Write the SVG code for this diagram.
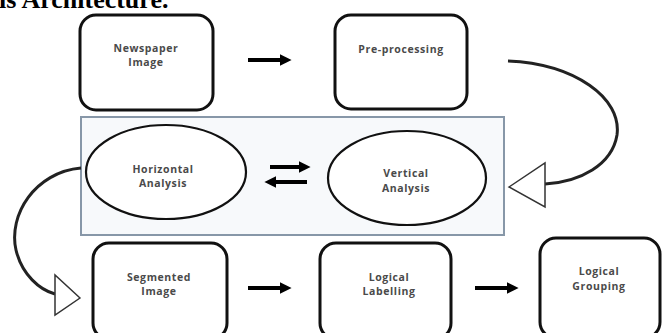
<svg xmlns="http://www.w3.org/2000/svg" width="664" height="333" viewBox="0 0 664 333">
<style>
.box{fill:#fff;stroke:#111;stroke-width:3}
.ell{fill:#fff;stroke:#111;stroke-width:2.2}
.lbl{font-family:"Open Sans","Liberation Sans",sans-serif;font-size:10.5px;font-weight:bold;fill:#4a4a4a;text-anchor:middle;letter-spacing:0.6px}
.arr{stroke:#000;stroke-width:4;fill:none}
.curve{stroke:#222;stroke-width:3;fill:none}
.tri{fill:#fff;stroke:#333;stroke-width:1.5}
</style>
<defs>
<marker id="ah" viewBox="0 0 10 10" refX="2" refY="5" markerWidth="12" markerHeight="12" markerUnits="userSpaceOnUse" orient="auto">
<path d="M0,0 L10,5 L0,10 Z" fill="#000"/>
</marker>
</defs>
<text x="-1" y="8" font-family="Liberation Serif,serif" font-weight="bold" font-size="26" fill="#000">is Architecture.</text>
<g id="container"><rect x="81" y="117" width="423" height="118" fill="#f7f9fb" stroke="#8797a8" stroke-width="2"/></g>
<g id="newspaper"><rect class="box" x="80" y="15" width="133" height="95" rx="16"/><text class="lbl" x="146" y="52">Newspaper</text><text class="lbl" x="146" y="66">Image</text></g>
<g id="preprocessing"><rect class="box" x="335" y="15" width="132" height="94" rx="16"/><text class="lbl" x="401" y="53">Pre-processing</text></g>
<g id="horizontal"><ellipse class="ell" cx="166" cy="172" rx="80" ry="47"/><text class="lbl" x="163" y="173">Horizontal</text><text class="lbl" x="163" y="187">Analysis</text></g>
<g id="vertical"><ellipse class="ell" cx="407" cy="178" rx="79" ry="47"/><text class="lbl" x="406" y="177">Vertical</text><text class="lbl" x="406" y="192">Analysis</text></g>
<g id="segmented"><rect class="box" x="93" y="243" width="134" height="96" rx="16"/><text class="lbl" x="159" y="281">Segmented</text><text class="lbl" x="159" y="295">Image</text></g>
<g id="labelling"><rect class="box" x="320" y="243" width="131" height="96" rx="16"/><text class="lbl" x="389" y="281">Logical</text><text class="lbl" x="389" y="295">Labelling</text></g>
<g id="grouping"><rect class="box" x="540" y="238" width="120" height="100" rx="16"/><text class="lbl" x="599" y="275">Logical</text><text class="lbl" x="599" y="290">Grouping</text></g>
<g id="connectors">
<line class="arr" x1="248" y1="60" x2="282" y2="60" marker-end="url(#ah)"/>
<line class="arr" x1="270" y1="167" x2="301" y2="167" marker-end="url(#ah)"/>
<line class="arr" x1="307" y1="182" x2="274" y2="182" marker-end="url(#ah)"/>
<line class="arr" x1="248" y1="288" x2="282" y2="288" marker-end="url(#ah)"/>
<line class="arr" x1="475" y1="288" x2="509" y2="288" marker-end="url(#ah)"/>
<path class="curve" d="M508,61 C575,64 622,98 617,135 C612,165 580,182 545,184"/>
<polygon class="tri" points="509,187 545,163 545,207"/>
<path class="curve" d="M81,168 C35,172 8,215 16,250 C22,275 40,290 55,294"/>
<polygon class="tri" points="80,298 55,275 55,315"/>
</g>
</svg>
